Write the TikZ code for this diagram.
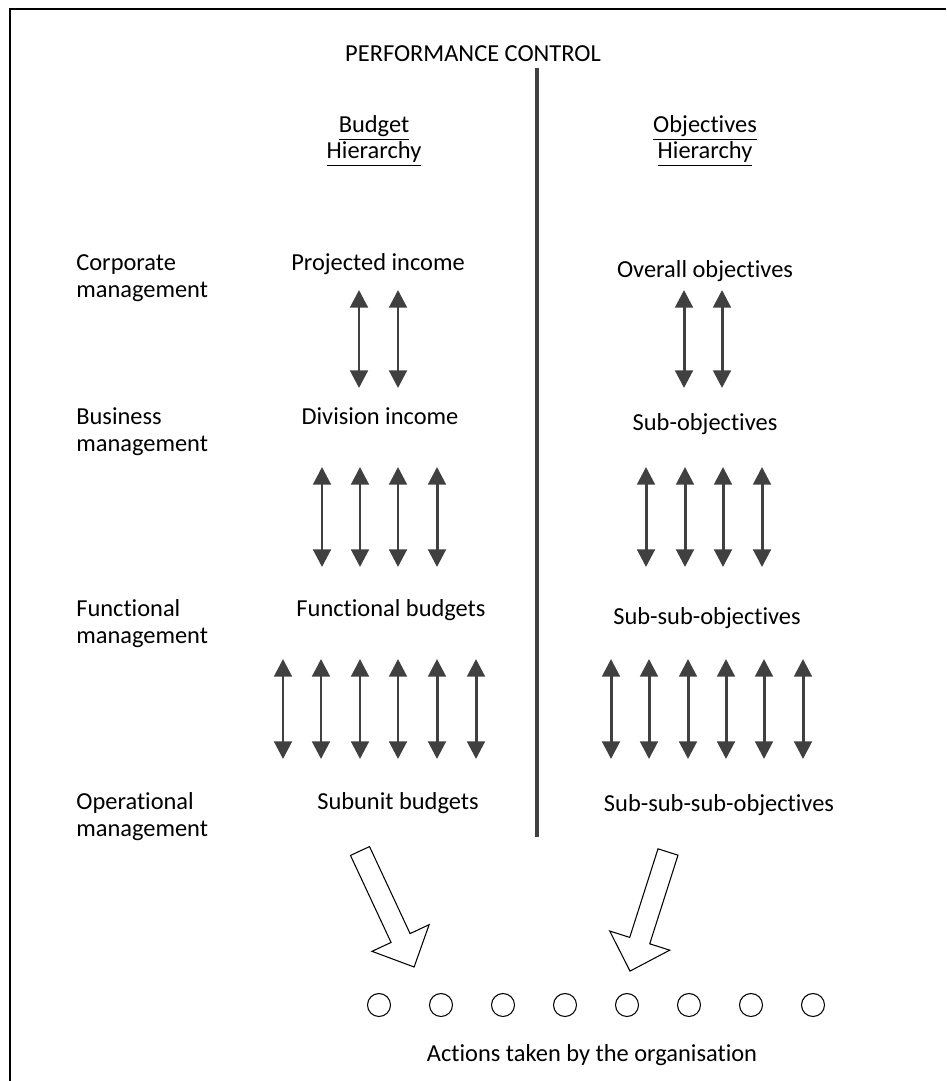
\documentclass[tikz,border=0pt]{standalone}
\usepackage{fontspec}
\setmainfont[Ligatures=NoCommon]{Carlito}
\usetikzlibrary{arrows.meta}

\tikzset{
  lbl/.style={font=\fontsize{13.9}{15.1}\selectfont, inner sep=0pt},
  twoway/.style={draw=black!75, line width=1.7pt,
    {Triangle[width=10pt,length=10pt]}-{Triangle[width=10pt,length=10pt]}},
  blockarrow/.style={draw, fill=white, line width=0.6pt},
  act/.style={circle, draw, line width=0.6pt, minimum size=0.46cm, inner sep=0pt},
}

\begin{document}
\begin{tikzpicture}[x=0.02cm, y=0.02cm]
  \useasboundingbox (0,0) rectangle (946,-1081);

  % frame
  \draw[line width=1.1pt] (10,-1081)--(10,-9)--(946,-9);

  \node[lbl, anchor=base] (title) at (473,-62) {PERFORMANCE CONTROL};
  \draw[line width=2.3pt, black!75] (537,-68)--(537,-837);

  % base = last line
  \node[lbl, align=center, anchor=base] (budget) at (374,-159) {\underline{Budget}\\\underline{Hierarchy}};
  \node[lbl, align=center, anchor=base] (objs) at (705,-159) {\underline{Objectives}\\\underline{Hierarchy}};

  % levels
  \node[lbl, align=left, anchor=base west] (corp) at (76,-297) {Corporate\\management};
  \node[lbl, align=left, anchor=base west] (bus) at (76,-451) {Business\\management};
  \node[lbl, align=left, anchor=base west] (func) at (76,-643) {Functional\\management};
  \node[lbl, align=left, anchor=base west] (oper) at (76,-836) {Operational\\management};

  \node[lbl, anchor=base] (proj) at (378,-270) {Projected income};
  \node[lbl, anchor=base] (divi) at (380,-424) {Division income};
  \node[lbl, anchor=base] (fbud) at (391,-616) {Functional budgets};
  \node[lbl, anchor=base] (sbud) at (398,-809) {Subunit budgets};

  \node[lbl, anchor=base] (over) at (705,-277) {Overall objectives};
  \node[lbl, anchor=base] (sobj) at (705,-430) {Sub-objectives};
  \node[lbl, anchor=base] (ssobj) at (707,-624) {Sub-sub-objectives};
  \node[lbl, anchor=base] (sssobj) at (719,-811) {Sub-sub-sub-objectives};

  % two-way arrows
  \foreach \x in {359,398,684,722} {
    \coordinate (u) at (\x,-290); \coordinate (d) at (\x,-388);
    \draw[twoway] (u)--(d);
  }
  \foreach \x in {322,360,398,437,646,685,723,762} {
    \coordinate (u) at (\x,-467); \coordinate (d) at (\x,-567);
    \draw[twoway] (u)--(d);
  }
  \foreach \x in {283,321,360,398,437,476,611,649,688,726,764,803} {
    \coordinate (u) at (\x,-659); \coordinate (d) at (\x,-759);
    \draw[twoway] (u)--(d);
  }

  % block arrows
  \draw[blockarrow, shift={(360,-851)}, rotate=-65]
    (0,10.5)--(96,10.5)--(96,31.5)--(128,0)--(96,-31.5)--(96,-10.5)--(0,-10.5)--cycle;
  \draw[blockarrow, shift={(668,-852)}, rotate=-107.7]
    (0,10.5)--(93,10.5)--(93,31.5)--(125,0)--(93,-31.5)--(93,-10.5)--(0,-10.5)--cycle;

  \foreach \i in {0,...,7}
    \node[act] (c\i) at ({379+62*\i},-1005) {};

  \node[lbl, anchor=base] (actions) at (592,-1061) {Actions taken by the organisation};
\end{tikzpicture}
\end{document}
